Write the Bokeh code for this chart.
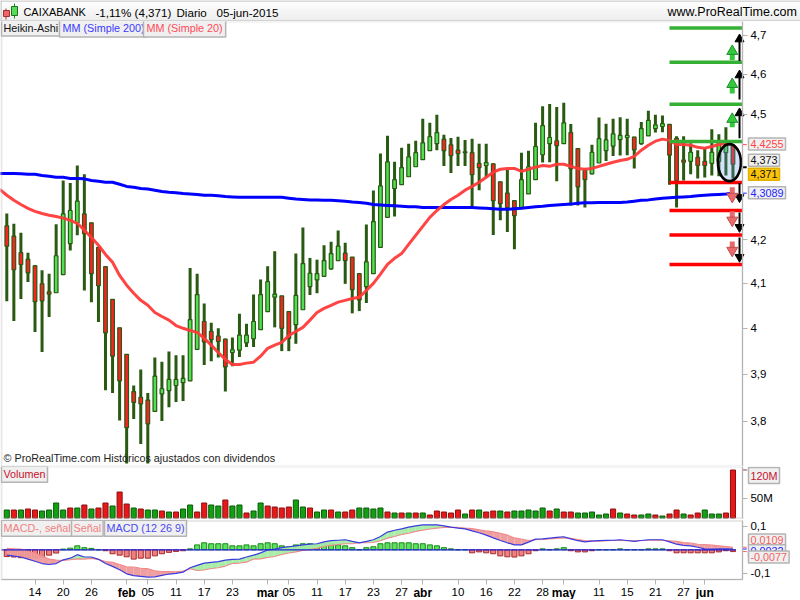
from bokeh.plotting import figure
from bokeh.layouts import column
from bokeh.models import Range1d, FixedTicker, Label, ColumnDataSource, BoxAnnotation
from bokeh.embed import file_html
from bokeh.resources import INLINE

# ---------- data ----------
opens = [4.232,4.208,4.170,4.155,4.140,4.099,4.081,4.079,4.120,4.191,
         4.239,4.260,4.239,4.182,4.138,4.064,4.001,3.943,3.863,3.851,
         3.845,3.821,3.858,3.865,3.876,3.882,3.886,3.954,4.015,3.993,
         3.983,3.976,3.947,3.952,3.968,3.977,3.997,4.037,4.069,4.072,
         4.037,4.008,4.041,4.093,4.108,4.116,4.133,4.152,4.169,4.160,
         4.122,4.093,4.122,4.182,4.252,4.320,4.329,4.348,4.372,4.389,
         4.411,4.428,4.439,4.425,4.412,4.408,4.406,4.380,4.375,4.379,
         4.336,4.309,4.291,4.274,4.307,4.341,4.401,4.428,4.435,4.428,
         4.455,4.416,4.363,4.355,4.381,4.411,4.422,4.438,4.443,4.444,
         4.428,4.447,4.465,4.470,4.475,4.441,4.388,4.385,4.395,4.385,
         4.380,4.385,4.406,4.424]
highs = [4.261,4.237,4.216,4.170,4.141,4.130,4.122,4.236,4.339,4.333,
         4.375,4.354,4.239,4.182,4.138,4.064,4.001,3.944,3.876,3.910,
         3.860,3.936,3.927,3.949,3.941,3.941,4.135,4.122,4.055,4.012,
         4.000,3.977,3.980,4.032,4.010,4.075,4.109,4.139,4.173,4.072,
         4.037,4.168,4.228,4.158,4.154,4.187,4.195,4.221,4.193,4.160,
         4.122,4.235,4.315,4.404,4.447,4.384,4.418,4.428,4.435,4.489,
         4.479,4.499,4.450,4.442,4.445,4.437,4.440,4.428,4.428,4.379,
         4.336,4.364,4.291,4.406,4.411,4.479,4.520,4.526,4.518,4.529,
         4.476,4.416,4.365,4.425,4.492,4.477,4.489,4.493,4.489,4.445,
         4.481,4.509,4.499,4.497,4.475,4.446,4.446,4.429,4.412,4.416,
         4.463,4.451,4.468,4.426]
lows = [4.060,4.016,4.065,4.103,3.992,3.948,4.025,4.079,4.120,4.175,
        4.210,4.084,4.058,4.014,3.866,3.860,3.802,3.713,3.805,3.753,
        3.713,3.820,3.801,3.830,3.841,3.843,3.886,3.953,3.920,3.928,
        3.936,3.863,3.917,3.937,3.959,3.959,3.997,4.036,4.002,3.950,
        3.950,3.966,4.041,4.074,4.078,4.116,4.131,4.152,4.099,4.033,
        4.038,4.056,4.122,4.182,4.252,4.254,4.329,4.348,4.372,4.389,
        4.411,4.412,4.374,4.357,4.374,4.374,4.278,4.316,4.347,4.211,
        4.245,4.218,4.178,4.274,4.307,4.341,4.382,4.383,4.337,4.428,
        4.280,4.280,4.275,4.354,4.381,4.386,4.398,4.399,4.400,4.368,
        4.425,4.447,4.455,4.456,4.329,4.275,4.339,4.354,4.344,4.346,
        4.351,4.349,4.351,4.344]
closes = [4.185,4.131,4.143,4.124,4.059,4.061,4.076,4.163,4.260,4.268,
          4.290,4.214,4.122,4.095,3.990,3.939,3.886,3.787,3.840,3.837,
          3.795,3.896,3.869,3.889,3.889,3.891,4.019,4.075,3.970,3.975,
          3.971,3.916,3.953,3.985,3.985,4.015,4.075,4.104,4.076,4.000,
          3.978,4.073,4.145,4.123,4.122,4.152,4.168,4.185,4.152,4.086,
          4.063,4.149,4.242,4.326,4.384,4.341,4.370,4.396,4.406,4.430,
          4.445,4.455,4.411,4.399,4.404,4.406,4.353,4.370,4.382,4.291,
          4.284,4.275,4.256,4.341,4.372,4.421,4.472,4.443,4.423,4.479,
          4.367,4.324,4.341,4.407,4.440,4.437,4.452,4.448,4.448,4.413,
          4.465,4.485,4.474,4.477,4.400,4.339,4.383,4.407,4.375,4.375,
          4.407,4.428,4.424,4.378]

# moving averages: first value belongs to the bar just left of the window
ma20 = [4.318,4.304,4.292,4.282,4.273,4.266,4.261,4.257,4.254,4.250,4.245,
        4.238,4.222,4.205,4.187,4.166,4.148,4.118,4.096,4.078,4.062,
        4.051,4.035,4.026,4.018,4.006,4.000,3.995,3.991,3.978,3.963,
        3.947,3.932,3.921,3.921,3.924,3.926,3.939,3.956,3.963,3.969,
        3.984,3.993,4.002,4.018,4.035,4.044,4.051,4.058,4.062,4.066,
        4.069,4.084,4.100,4.121,4.143,4.157,4.168,4.189,4.210,4.231,
        4.252,4.268,4.282,4.294,4.304,4.316,4.325,4.335,4.347,4.359,
        4.366,4.368,4.368,4.361,4.366,4.371,4.375,4.373,4.378,4.378,
        4.373,4.368,4.366,4.368,4.373,4.378,4.383,4.387,4.390,4.397,
        4.412,4.424,4.434,4.439,4.436,4.426,4.426,4.424,4.419,4.417,
        4.421,4.426,4.429,4.4255]
ma200 = [4.356,4.356,4.356,4.355,4.354,4.354,4.351,4.349,4.347,4.347,4.344,
         4.344,4.343,4.339,4.337,4.335,4.335,4.330,4.325,4.323,4.320,
         4.319,4.316,4.313,4.311,4.310,4.308,4.307,4.306,4.304,4.304,
         4.303,4.301,4.300,4.299,4.299,4.299,4.299,4.299,4.299,4.299,
         4.297,4.295,4.294,4.293,4.293,4.292,4.292,4.291,4.290,4.288,
         4.287,4.285,4.282,4.281,4.280,4.279,4.278,4.277,4.277,4.275,
         4.275,4.275,4.275,4.275,4.275,4.275,4.275,4.274,4.273,4.272,
         4.271,4.271,4.272,4.273,4.275,4.277,4.278,4.280,4.281,4.282,
         4.283,4.285,4.286,4.286,4.287,4.287,4.287,4.287,4.288,4.290,
         4.292,4.293,4.295,4.297,4.298,4.299,4.300,4.301,4.303,4.304,
         4.305,4.306,4.307,4.3089]

volume = [20,20,20,22.5,20,17.5,20,37.5,20,25,25,32.5,22.5,25,37.5,30,65,35,25,22.5,
          20,20,17.5,15,15,22.5,32.5,15,37.5,32.5,30,45,30,32.5,12.5,17.5,37.5,30,27.5,25,
          27.5,45,27.5,25,15,20,20,15,15,20,25,25,22.5,25,15,12.5,12.5,12.5,12.5,12.5,
          7.5,17.5,15,12.5,20,10,20,20,15,17.5,17.5,15,17.5,17.5,20,17.5,25,17.5,22.5,15,
          15,12.5,12.5,15,7.5,10,22.5,12.5,10,7.5,7.5,10,7.5,5,10,20,10,7.5,12.5,20,
          10,10,12.5,120]
volume_up = [1,0,1,0,0,1,1,1,1,0,1,0,1,0,0,1,0,0,1,0,
             1,1,0,1,0,1,1,0,0,1,1,0,1,1,0,1,1,0,0,0,
             0,1,1,0,1,1,0,1,0,0,1,1,1,1,0,1,0,1,0,1,
             0,0,0,0,0,1,0,1,0,0,1,0,1,1,1,1,1,0,1,0,
             0,1,1,1,1,1,0,1,0,0,1,1,0,1,0,0,1,0,0,1,
             1,1,0,0]

macd = [-0.023,-0.027,-0.031,-0.040,-0.049,-0.059,-0.063,-0.059,-0.043,-0.036,
        -0.021,-0.031,-0.031,-0.041,-0.059,-0.071,-0.086,-0.103,-0.111,-0.114,
        -0.117,-0.116,-0.110,-0.104,-0.101,-0.096,-0.077,-0.067,-0.057,-0.054,
        -0.051,-0.044,-0.041,-0.040,-0.031,-0.023,-0.013,-0.001,0.003,0.009,
        0.013,0.017,0.021,0.024,0.026,0.034,0.039,0.041,0.043,0.036,
        0.030,0.036,0.043,0.057,0.076,0.084,0.090,0.097,0.103,0.107,
        0.107,0.107,0.103,0.097,0.093,0.090,0.081,0.073,0.063,0.051,
        0.040,0.030,0.021,0.021,0.033,0.046,0.047,0.050,0.053,0.056,
        0.047,0.039,0.034,0.037,0.039,0.040,0.041,0.043,0.040,0.036,
        0.040,0.043,0.043,0.043,0.034,0.024,0.019,0.017,0.011,0.004,
        0.003,0.004,0.004,0.0032]
signal = [0.006,0.004,0.003,-0.006,-0.014,-0.027,-0.040,-0.044,-0.046,-0.043,
          -0.039,-0.040,-0.037,-0.041,-0.050,-0.054,-0.063,-0.073,-0.074,-0.079,
          -0.081,-0.090,-0.093,-0.093,-0.094,-0.091,-0.081,-0.089,-0.087,-0.080,
          -0.077,-0.070,-0.059,-0.057,-0.053,-0.040,-0.039,-0.033,-0.029,-0.020,
          -0.014,-0.009,-0.003,0.001,0.006,0.014,0.019,0.023,0.026,0.026,
          0.030,0.030,0.031,0.039,0.050,0.057,0.066,0.071,0.079,0.084,
          0.089,0.093,0.096,0.097,0.096,0.093,0.091,0.086,0.081,0.077,
          0.071,0.063,0.051,0.046,0.040,0.043,0.044,0.046,0.049,0.051,
          0.049,0.044,0.040,0.039,0.037,0.039,0.040,0.040,0.039,0.039,
          0.040,0.041,0.041,0.040,0.039,0.036,0.031,0.029,0.024,0.023,
          0.020,0.017,0.014,0.0109]
histogram = [-0.029,-0.031,-0.034,-0.034,-0.034,-0.031,-0.023,-0.014,0.003,0.007,
             0.017,0.009,0.006,0.0,-0.004,-0.017,-0.023,-0.030,-0.040,-0.036,
             -0.036,-0.026,-0.017,-0.011,-0.007,-0.004,0.004,0.021,0.030,0.026,
             0.026,0.026,0.017,0.017,0.021,0.017,0.026,0.030,0.026,0.017,
             0.013,0.021,0.026,0.026,0.021,0.026,0.026,0.021,0.017,0.009,
             0.0,0.009,0.013,0.026,0.030,0.030,0.030,0.030,0.026,0.026,
             0.021,0.017,0.009,0.004,0.0,0.0,-0.013,-0.009,-0.013,-0.017,
             -0.026,-0.030,-0.031,-0.026,-0.017,-0.004,0.004,0.0,0.004,0.009,
             -0.004,-0.009,-0.009,-0.004,0.0,0.0,0.0,0.004,0.0,0.0,
             0.0,0.004,0.004,0.004,-0.004,-0.013,-0.013,-0.013,-0.013,-0.013,
             -0.013,-0.009,-0.004,-0.0077]

level_up = [4.719,4.631,4.525,4.433]
level_down = [4.334,4.268,4.211,4.143]
target_up_from = [4.634,4.537,4.441]
target_up_to = [4.690,4.598,4.503]
target_down_from = [4.333,4.263,4.205]
target_down_to = [4.299,4.229,4.160]
block_up_from = [4.636,4.552,4.468]
block_up_to = [4.659,4.575,4.488]
block_down_from = [4.323,4.266,4.196]
block_down_to = [4.301,4.245,4.175]

price_ticks = [3.8,3.9,4.0,4.1,4.2,4.5,4.6,4.7]
price_labels = ["3,8","3,9","4","4,1","4,2","4,5","4,6","4,7"]
date_ticks = [4,8,12,17,20,24,28,32,37,40,44,48,52,56,59,64,68,72,76,79,84,88,92,96,99]
date_labels = ["14","20","26","feb","05","11","17","23","mar","05","11","17","23","27","abr",
               "10","16","22","28","may","11","15","21","27","jun"]
months = ["feb","mar","abr","may","jun"]

# ---------- layout constants ----------
W = 800
FONT = "Liberation Sans"
FS = "10.8px"
GRAY = "#b4b4b4"
DARK = "#2a5a12"
n = len(closes)
xs = list(range(n))
x_range = Range1d(-0.894, 112.58)
AXIS_X = 104.35          # bar position of the panels' right edge
LEFT_X = -0.752
TICK_X = 104.95


def tag(fig, x, y, text, color, bg="#f0f0f0", size=FS, border=GRAY, pad=2, offset=0.0):
    fig.add_layout(Label(x=x, y=y - offset, x_units="canvas", y_units="canvas",
                         text=text, text_color=color, text_font=FONT, text_font_size=size,
                         text_baseline="middle", text_align="left", level="overlay",
                         background_fill_color=bg, border_line_color=border, border_line_width=1.5,
                         padding=pad))


def plain(fig, **box):
    fig.grid.visible = False
    fig.outline_line_color = None
    fig.background_fill_color = "white"
    fig.border_fill_color = "white"
    fig.add_layout(BoxAnnotation(left=LEFT_X, right=AXIS_X, fill_color=None, fill_alpha=0,
                                 line_color=GRAY, line_width=2, level="guide", **box))


def style_axis(ax, ticks, overrides):
    ax.ticker = FixedTicker(ticks=ticks)
    ax.major_label_overrides = overrides
    ax.axis_line_color = GRAY
    ax.major_tick_line_color = GRAY
    ax.major_tick_line_width = 1
    ax.major_tick_out = 5
    ax.major_tick_in = 0
    ax.minor_tick_line_color = None
    ax.major_label_text_font = FONT
    ax.major_label_text_font_size = "11.5px"
    ax.major_label_text_color = "black"
    ax.major_label_standoff = 3


# ---------- header ----------
head = figure(width=W, height=21, x_range=(0, 800), y_range=(21, 0), toolbar_location=None,
              output_backend="svg", min_border=0, x_axis_type=None, y_axis_type=None,
              background_fill_color="#f6f6f6", border_fill_color="#f6f6f6")
head.grid.visible = False
head.outline_line_color = None
shades = ["#ffffff", "#fdfdfd", "#fbfbfb", "#f9f9f9", "#f7f7f7", "#f5f5f5", "#f3f3f3",
          "#f1f1f1", "#efefef", "#ededed"]
head.quad(left=0, right=800, top=[2 * k for k in range(10)], bottom=[2 * k + 2 for k in range(10)],
          fill_color=shades, line_color=None)
head.quad(left=0, right=800, top=0, bottom=1, fill_color=GRAY, line_color=None)
head.quad(left=0, right=800, top=20, bottom=21, fill_color=GRAY, line_color=None)
head.quad(left=0, right=1, top=0, bottom=21, fill_color=GRAY, line_color=None)
head.segment([5.5, 14], [8, 3], [5.5, 14], [19, 18], line_color=["#b03030", "#208020"], line_width=1)
head.quad(left=[3, 11], right=[9, 17], top=[10, 6], bottom=[16, 15],
          fill_color=["#ee6666", "#55dd55"], line_color=["#a03030", "#207020"])
for x, t, s in [(23, "CAIXABANK", "10.9px"), (95, "-1,11% (4,371)", "11.6px"), (176, "Diario", "11.6px"),
                (216, "05-jun-2015", "11.6px"), (667, "www.ProRealTime.com", "12.5px")]:
    head.text([x], [11.5], text=[t], text_font={"value": FONT}, text_font_size=s,
              text_color="#000000", text_baseline="middle", text_font_style="normal")

# ---------- price panel ----------
main = figure(width=W, height=445, x_range=x_range, y_range=Range1d(3.7069, 4.736),
              y_axis_type="log", y_axis_location="right", toolbar_location=None,
              output_backend="svg", x_axis_type=None, min_border=0)
plain(main)
style_axis(main.yaxis[0], price_ticks, dict(zip(price_ticks, price_labels)))
main.yaxis[0].fixed_location = AXIS_X

src = ColumnDataSource(dict(
    x=xs, low=lows, high=highs,
    top=[max(a, b) for a, b in zip(opens, closes)],
    bot=[min(a, b) for a, b in zip(opens, closes)],
    fill=["#52de52" if c >= o else "#fb2222" for o, c in zip(opens, closes)]))
main.segment("x", "low", "x", "high", source=src, line_color=DARK, line_width=3)
main.vbar("x", 0.52, "top", "bot", source=src, fill_color="fill", line_color=DARK, line_width=1.2)

ma_x = list(range(-1, n))
main.line(ma_x, ma200, line_color="#0000ff", line_width=3)
main.line(ma_x, ma20, line_color="#ff3a3a", line_width=3, line_alpha=0.95)

LEVEL_X0 = 94.0
main.segment([LEVEL_X0] * 4, level_up, [AXIS_X] * 4, level_up, line_color="#35b035", line_width=3.5)
main.segment([LEVEL_X0] * 4, level_down, [AXIS_X] * 4, level_down, line_color="#ff0000", line_width=3.5)

AX, BX = 103.93, 102.9
main.segment([AX] * 3, target_up_from, [AX] * 3, target_up_to, line_color="black", line_width=2)
main.scatter([AX] * 3, target_up_to, marker="triangle", size=9, color="black")
main.segment([AX] * 3, target_down_from, [AX] * 3, target_down_to, line_color="black", line_width=2)
main.scatter([AX] * 3, target_down_to, marker="inverted_triangle", size=9, color="black")
main.segment([BX] * 3, block_up_from, [BX] * 3, block_up_to, line_color="#35c83c", line_width=5)
main.scatter([BX] * 3, block_up_to, marker="triangle", size=11, fill_color="#35c83c", line_color="#209030")
main.segment([BX] * 3, block_down_from, [BX] * 3, block_down_to, line_color="#e86a6a", line_width=5)
main.scatter([BX] * 3, block_down_to, marker="inverted_triangle", size=11, fill_color="#e86a6a", line_color="#c05050")

main.ellipse([102.5], [4.382], width=23, height=37, width_units="screen", height_units="screen",
             fill_color="#5b8fe8", fill_alpha=0.26, line_color="black", line_width=2.6)

# short marks on the axis next to the value boxes
main.segment([AXIS_X] * 3, [ma20[-1], 4.371, ma200[-1]], [TICK_X] * 3, [ma20[-1], 4.371, ma200[-1]],
             line_color=["#ff4444", "#000000", "#2222ff"], line_width=[1, 2, 1])

tag(main, 1, 27.5, "Heikin-Ashi", "#111111", offset=21)
tag(main, 59, 27.5, "MM (Simple 200)", "#3a3aff", offset=21, pad=3)
tag(main, 143, 27.5, "MM (Simple 20)", "#ff4a5a", offset=21, pad=3)
tag(main, 3, 457, "\u00a9 ProRealTime.com  Hist\u00f3ricos ajustados con dividendos", "#222222",
    bg=None, border=None, pad=0, offset=21)
tag(main, 748, 143.5, "4,4255", "#ff4444", offset=21)
tag(main, 748, 159.7, "4,373", "#111111", offset=21)
tag(main, 748, 173.7, "4,371", "#111111", bg="#fcc40c", border="#e0b000", offset=21)
tag(main, 748, 192.3, "4,3089", "#2222ff", offset=21)

# ---------- volume ----------
vol = figure(width=W, height=53, x_range=x_range, y_range=Range1d(-3.75, 128.75),
             y_axis_location="right", toolbar_location=None, output_backend="svg",
             x_axis_type=None, min_border=0)
plain(vol, bottom=-0.5)
style_axis(vol.yaxis[0], [50, 120], {50: "50M", 120: ""})
vol.yaxis[0].fixed_location = AXIS_X
vol.yaxis[0].bounds = (-0.5, 128.75)
vol.vbar(xs, 0.72, volume, 0,
         fill_color=["#12a012" if u else "#e81818" for u in volume_up],
         line_color=["#0a5a0a" if u else "#8a1010" for u in volume_up], line_width=1)
vol.segment([AXIS_X], [volume[-1]], [TICK_X], [volume[-1]], line_color="#b01010", line_width=1)
tag(vol, 1, 473.7, "Volumen", "#c8102e", offset=466)
tag(vol, 748, 475, "120M", "#c8102e", offset=466)

# ---------- MACD ----------
mac = figure(width=W, height=80, x_range=x_range, y_range=Range1d(-0.2133, 0.130),
             y_axis_location="right", x_axis_location="below", toolbar_location=None,
             output_backend="svg", min_border=0)
plain(mac, top=0.1236, bottom=-0.1275)
style_axis(mac.yaxis[0], [-0.1, 0.1], {-0.1: "-0,1", 0.1: "0,1"})
mac.yaxis[0].fixed_location = AXIS_X
mac.yaxis[0].bounds = (-0.1275, 0.1236)
style_axis(mac.xaxis[0], date_ticks,
           {t: ("" if l in months else l) for t, l in zip(date_ticks, date_labels)})
mac.xaxis[0].fixed_location = -0.1275
mac.xaxis[0].bounds = (LEFT_X, AXIS_X)
mac.vbar(xs, 0.72, [max(h, 0) for h in histogram], [min(h, 0) for h in histogram],
         fill_color=["#5ce25c" if h >= 0 else "#ee8080" for h in histogram],
         line_color=["#148a14" if h >= 0 else "#a82828" for h in histogram], line_width=1)
mac.patches([[i, i + 1, i + 1, i] for i in range(n - 1)],
            [[macd[i], macd[i + 1], signal[i + 1], signal[i]] for i in range(n - 1)],
            fill_color=["#a4eca4" if macd[i] + macd[i + 1] >= signal[i] + signal[i + 1] else "#ee9a9a"
                        for i in range(n - 1)], line_color=None, fill_alpha=0.95)
mac.line(xs, signal, line_color="#f08a8a", line_width=1.1)
mac.line(xs, macd, line_color="#3a3ae0", line_width=1.2)
mac.line([LEFT_X, 103.4], [0, 0], line_color="#2020d8", line_width=1.3)
last = [signal[-1], macd[-1], histogram[-1]]
mac.segment([AXIS_X] * 3, last, [TICK_X] * 3, last, line_color=["#f06060", "#2222ff", "#f06060"], line_width=1)
tag(mac, 1, 527.7, "MACD-, se\u00f1al", "#f08080", offset=519)
tag(mac, 71, 527.7, "Se\u00f1al", "#f08080", offset=519)
tag(mac, 104, 527.7, "MACD (12 26 9)", "#4a4af0", offset=519)
tag(mac, 748, 539.5, "0,0109", "#f06060", offset=519)
tag(mac, 748, 550.3, "0,0032", "#2222ff", offset=519)
tag(mac, 748, 556.5, "-0,0077", "#f06060", offset=519)
for t, l in zip(date_ticks, date_labels):
    if l in months:
        mac.add_layout(Label(x=t, y=592 - 519, x_units="data", y_units="canvas", text=l, level="overlay",
                             text_align="center", text_baseline="middle", text_font=FONT,
                             text_font_size="12px", text_font_style="bold", text_color="black"))

foot = figure(width=W, height=1, toolbar_location=None, output_backend="svg", min_border=0,
              x_axis_type=None, y_axis_type=None, background_fill_color=GRAY, border_fill_color=GRAY)
foot.grid.visible = False
foot.outline_line_color = None

page = column(head, main, vol, mac, foot, spacing=0)
open("out.html", "w").write(file_html(page, INLINE))
